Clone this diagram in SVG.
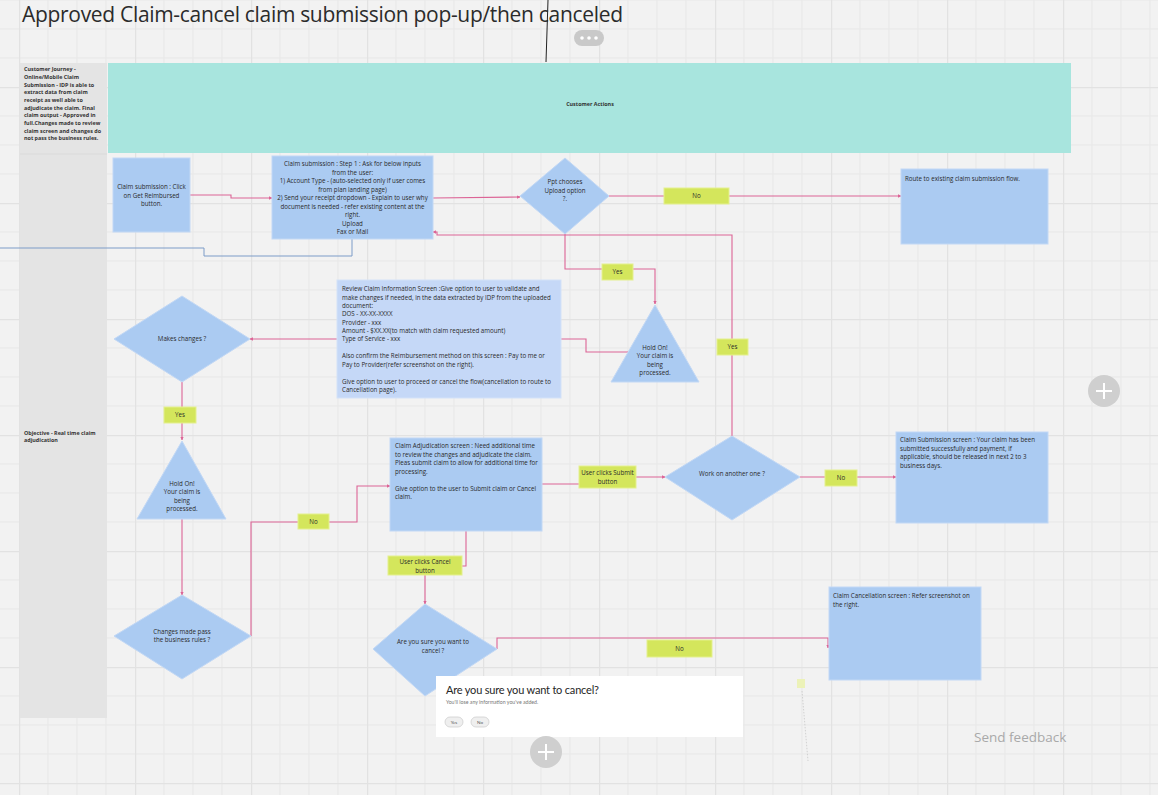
<svg xmlns="http://www.w3.org/2000/svg" width="1158" height="795" viewBox="0 0 1158 795">
<style>
.t{font-family:"Open Sans","Liberation Sans",sans-serif;font-size:6.2px;fill:#2a2a2a}
.c{text-anchor:middle}
.side{font-family:"Open Sans","Liberation Sans",sans-serif;font-size:5.4px;font-weight:bold;fill:#333}
.box{fill:#abcbf2;stroke:#c2d8f5;stroke-width:1}
.lbl{fill:#d4e65c;stroke:#e4f08e;stroke-width:1}
.ln{fill:none;stroke:#dc6496;stroke-width:1.1}
</style>
<defs>
<pattern id="grid" width="116" height="116" patternUnits="userSpaceOnUse" x="19" y="87">
<path d="M29 0V116M58 0V116M87 0V116M0 29H116M0 58H116M0 87H116" stroke="#e7e7e7" stroke-width="1" fill="none"/>
<path d="M0.5 0V116M0 0.5H116" stroke="#e2e2e2" stroke-width="1.5" fill="none"/>
</pattern>
<marker id="ar" viewBox="0 0 6 6" refX="5.5" refY="3" markerWidth="3" markerHeight="3" orient="auto">
<path d="M0 0L6 3L0 6z" fill="#dc6496"/>
</marker>
</defs>
<rect width="1158" height="795" fill="#f2f2f2"/>
<rect width="1158" height="795" fill="url(#grid)"/>

<text x="22" y="22" font-family="'Open Sans','Liberation Sans',sans-serif" font-size="21" fill="#2b2b2b" textLength="601">Approved Claim-cancel claim submission pop-up/then canceled</text>
<line x1="548" y1="0" x2="546" y2="62" stroke="#222" stroke-width="1"/>
<g id="menu">
<rect x="574" y="30" width="30" height="16" rx="8" fill="#c9c9c9"/>
<circle cx="582" cy="38" r="1.8" fill="#fff"/><circle cx="589" cy="38" r="1.8" fill="#fff"/><circle cx="596" cy="38" r="1.8" fill="#fff"/>
</g>

<g id="sidebar">
<rect x="20" y="63" width="87" height="655" fill="#e4e4e4"/>
<line x1="20" y1="154" x2="107" y2="154" stroke="#dadada" stroke-width="1"/>
<text class="side" x="24" y="71">Customer Journey -</text>
<text class="side" x="24" y="79">Online/Mobile  Claim</text>
<text class="side" x="24" y="86.5">Submission - IDP is able to</text>
<text class="side" x="24" y="94">extract data from claim</text>
<text class="side" x="24" y="102">receipt as well able to</text>
<text class="side" x="24" y="109.5">adjudicate the claim. Final</text>
<text class="side" x="24" y="117">claim output - Approved in</text>
<text class="side" x="24" y="125">full.Changes made to review</text>
<text class="side" x="24" y="132.5">claim screen and changes do</text>
<text class="side" x="24" y="140">not pass the business rules.</text>
<text class="side" x="24" y="435">Objective - Real time claim</text>
<text class="side" x="24" y="442">adjudication</text>
</g>

<g id="header">
<rect x="108" y="63" width="963" height="90" fill="#a8e5de"/>
<text class="side c" x="590" y="106" font-size="5.8">Customer Actions</text>
</g>

<g id="connectors">
<polyline class="ln" points="190,195 231,195 231,198 272,198" marker-end="url(#ar)"/>
<polyline class="ln" points="433,198 520,197" marker-end="url(#ar)"/>
<polyline class="ln" points="609,196 901,196" marker-end="url(#ar)"/>
<polyline class="ln" points="565,234 565,269 655,269 655,304" marker-end="url(#ar)"/>
<polyline class="ln" points="732,436 732,235 437,235 437,232 433,232" marker-end="url(#ar)"/>
<polyline fill="none" stroke="#7d9cc8" stroke-width="1" points="352,239 352,256 204,256 204,248 0,248"/>
<polyline class="ln" points="337,339 250,339" marker-end="url(#ar)"/>
<polyline class="ln" points="561,339 586,339 586,352 628,352"/>
<polyline class="ln" points="182,382 182,440" marker-end="url(#ar)"/>
<polyline class="ln" points="182,519 182,595" marker-end="url(#ar)"/>
<polyline class="ln" points="251,636 251,522 357,522 357,486 390,486" marker-end="url(#ar)"/>
<polyline class="ln" points="542,484 600,484 600,477 665,477" marker-end="url(#ar)"/>
<polyline class="ln" points="800,477 896,477" marker-end="url(#ar)"/>
<polyline class="ln" points="466,531 466,566 425,566 425,604" marker-end="url(#ar)"/>
<polyline class="ln" points="497,649 497,638 828,638 828,648" marker-end="url(#ar)"/>
</g>

<g id="n-click">
<rect class="box" x="113" y="158" width="77" height="74"/>
<text class="t c" x="151.5" y="189">Claim submission : Click</text>
<text class="t c" x="151.5" y="197.5">on Get Reimbursed</text>
<text class="t c" x="151.5" y="206">button.</text>
</g>

<g id="n-step1">
<rect class="box" x="272" y="156" width="161" height="83"/>
<text class="t c" x="352.5" y="166">Claim submission : Step 1 : Ask for below inputs</text>
<text class="t c" x="352.5" y="174.5">from the user:</text>
<text class="t c" x="352.5" y="183">1) Account Type - (auto-selected only if user comes</text>
<text class="t c" x="352.5" y="191.5">from plan landing page)</text>
<text class="t c" x="352.5" y="200">2) Send your receipt dropdown - Explain to user why</text>
<text class="t c" x="352.5" y="208.5">document is needed - refer existing content at the</text>
<text class="t c" x="352.5" y="217">right.</text>
<text class="t c" x="352.5" y="225.5">Upload</text>
<text class="t c" x="352.5" y="234">Fax or Mail</text>
</g>

<g id="n-upload">
<polygon class="box" points="565,158 609,196 565,234 520,196"/>
<text class="t c" x="565" y="184">Ppt chooses</text>
<text class="t c" x="565" y="192.5">Upload option</text>
<text class="t c" x="565" y="201">?.</text>
</g>

<g id="n-route">
<rect class="box" x="901" y="169" width="147" height="75"/>
<text class="t" x="905" y="181">Route to existing claim submission flow.</text>
</g>

<g id="n-review">
<rect x="337" y="280" width="224" height="118" fill="#c5d8f7" stroke="#d3e2f8"/>
<text class="t" x="342" y="291">Review Claim Information Screen :Give option to user to validate and</text>
<text class="t" x="342" y="299.5">make changes if needed, in the data extracted by IDP from the uploaded</text>
<text class="t" x="342" y="307.5">document:</text>
<text class="t" x="342" y="316">DOS - XX-XX-XXXX</text>
<text class="t" x="342" y="324.5">Provider - xxx</text>
<text class="t" x="342" y="332.5">Amount - $XX.XX(to match with claim requested amount)</text>
<text class="t" x="342" y="341">Type of Service - xxx</text>
<text class="t" x="342" y="358">Also confirm the Reimbursement method on this screen : Pay to me or</text>
<text class="t" x="342" y="366.5">Pay to Provider(refer screenshot on the right).</text>
<text class="t" x="342" y="383.5">Give option to user to proceed or cancel the flow(cancellation to route to</text>
<text class="t" x="342" y="392">Cancellation page).</text>
</g>

<g id="n-hold1">
<polygon class="box" points="655,305 699,382 611,382"/>
<text class="t c" x="655" y="349.5">Hold On!</text>
<text class="t c" x="655" y="358">Your claim is</text>
<text class="t c" x="655" y="366.5">being</text>
<text class="t c" x="655" y="375">processed.</text>
</g>

<g id="n-makes">
<polygon class="box" points="182,296 250,339 182,382 114,339"/>
<text class="t c" x="182" y="341">Makes changes ?</text>
</g>

<g id="n-hold2">
<polygon class="box" points="182,441 226,519 137,519"/>
<text class="t c" x="182" y="485.5">Hold On!</text>
<text class="t c" x="182" y="494">Your claim is</text>
<text class="t c" x="182" y="502.5">being</text>
<text class="t c" x="182" y="511">processed.</text>
</g>

<g id="n-rules">
<polygon class="box" points="182,595 251,636 182,679 114,636"/>
<text class="t c" x="182" y="633.5">Changes made pass</text>
<text class="t c" x="182" y="642">the business rules ?</text>
</g>

<g id="n-adjudication">
<rect class="box" x="390" y="438" width="152" height="93"/>
<text class="t" x="395" y="448">Claim Adjudication screen : Need additional time</text>
<text class="t" x="395" y="456.5">to review the changes and adjudicate the claim.</text>
<text class="t" x="395" y="465">Pleas submit claim to allow for additional time for</text>
<text class="t" x="395" y="473.5">processing.</text>
<text class="t" x="395" y="490.5">Give option to the user to Submit claim or Cancel</text>
<text class="t" x="395" y="499">claim.</text>
</g>

<g id="n-work">
<polygon class="box" points="732,436 800,477 732,520 665,477"/>
<text class="t c" x="732" y="476">Work on another one ?</text>
</g>

<g id="n-submitted">
<rect class="box" x="896" y="432" width="152" height="91"/>
<text class="t" x="900" y="442">Claim Submission screen : Your claim has been</text>
<text class="t" x="900" y="450.5">submitted successfully and payment, if</text>
<text class="t" x="900" y="459">applicable, should be released in next 2 to 3</text>
<text class="t" x="900" y="467.5">business days.</text>
</g>

<g id="n-sure">
<polygon class="box" points="425,604 497,649 425,696 373,649"/>
<text class="t c" x="433" y="644">Are you sure you want to</text>
<text class="t c" x="433" y="652.5">cancel ?</text>
</g>

<g id="n-cancelled">
<rect class="box" x="829" y="587" width="152" height="93"/>
<text class="t" x="833" y="598">Claim Cancellation screen : Refer screenshot on</text>
<text class="t" x="833" y="606.5">the right.</text>
</g>

<g id="labels">
<rect class="lbl" x="664" y="188" width="65" height="16"/><text class="t c" x="696.5" y="198">No</text>
<rect class="lbl" x="602" y="264" width="31" height="16"/><text class="t c" x="617.5" y="274">Yes</text>
<rect class="lbl" x="717" y="339" width="31" height="16"/><text class="t c" x="732.5" y="349">Yes</text>
<rect class="lbl" x="164" y="407" width="32" height="16"/><text class="t c" x="180" y="417">Yes</text>
<rect class="lbl" x="298" y="514" width="31" height="15"/><text class="t c" x="313.5" y="524">No</text>
<rect class="lbl" x="579" y="466" width="57" height="22"/><text class="t c" x="607.5" y="475">User clicks Submit</text><text class="t c" x="607.5" y="483.5">button</text>
<rect class="lbl" x="825" y="470" width="32" height="16"/><text class="t c" x="841" y="480">No</text>
<rect class="lbl" x="388" y="556" width="74" height="19"/><text class="t c" x="425" y="564">User clicks Cancel</text><text class="t c" x="425" y="572.5">button</text>
<rect class="lbl" x="647" y="640" width="65" height="17"/><text class="t c" x="679.5" y="650.5">No</text>
</g>

<g id="popup">
<rect x="436" y="676" width="307" height="61" fill="#ffffff"/>
<text x="446" y="694" font-family="Lato,'Liberation Sans',sans-serif" font-size="11" fill="#262626" textLength="153">Are you sure you want to cancel?</text>
<text x="446" y="704" font-family="Lato,'Liberation Sans',sans-serif" font-size="5.2" fill="#777">You'll lose any information you've added.</text>
<rect x="445" y="717" width="18" height="10" rx="5" fill="#efefef" stroke="#cfcfcf" stroke-width="0.8"/>
<text x="454" y="724" text-anchor="middle" font-family="Lato,'Liberation Sans',sans-serif" font-size="4.5" fill="#555">Yes</text>
<rect x="471" y="717" width="18" height="10" rx="5" fill="#efefef" stroke="#cfcfcf" stroke-width="0.8"/>
<text x="480" y="724" text-anchor="middle" font-family="Lato,'Liberation Sans',sans-serif" font-size="4.5" fill="#555">No</text>
</g>

<g id="sticky">
<rect x="797" y="679" width="8" height="9" fill="#ecf2b8"/>
<line x1="802" y1="691" x2="808" y2="761" stroke="#c8c8c8" stroke-width="0.8" stroke-dasharray="1.5,1.5"/>
</g>

<g id="plus1">
<circle cx="1104" cy="391" r="16" fill="#cfcfcf"/>
<path d="M1104 383V399M1096 391H1112" stroke="#fff" stroke-width="2"/>
</g>
<g id="plus2">
<circle cx="546" cy="752" r="16" fill="#cfcfcf"/>
<path d="M546 744V760M538 752H554" stroke="#fff" stroke-width="2"/>
</g>
<text x="974" y="742" font-family="'Open Sans','Liberation Sans',sans-serif" font-size="13.5" fill="#a9a9a9">Send feedback</text>
</svg>
